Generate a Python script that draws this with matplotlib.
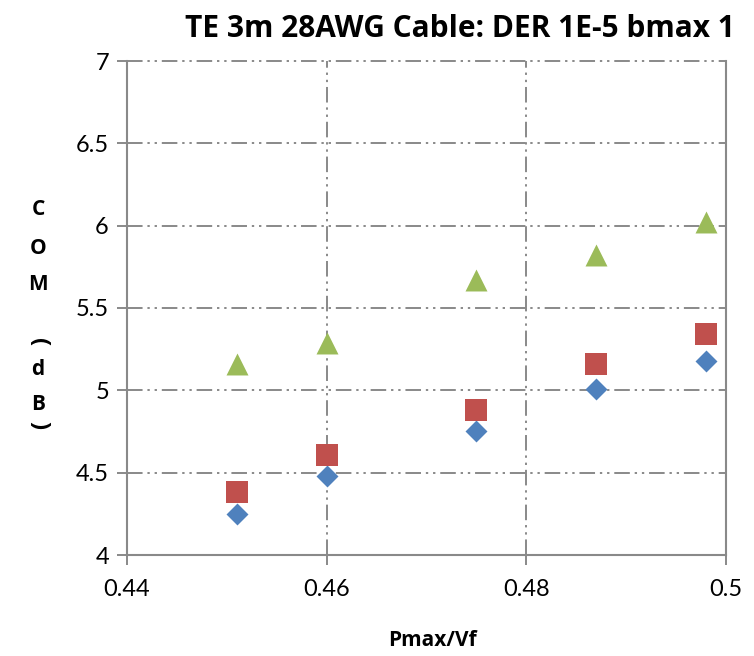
import numpy as np
import matplotlib.pyplot as plt

# data
pmax_vf = [0.451, 0.46, 0.475, 0.487, 0.498]
com_blue = [4.25, 4.48, 4.75, 5.01, 5.18]
com_red = [4.38, 4.61, 4.88, 5.16, 5.34]
com_green = [5.16, 5.29, 5.67, 5.82, 6.02]
xticks = [0.44, 0.46, 0.48, 0.5]
xtick_labels = ['0.44', '0.46', '0.48', '0.5']
yticks = [4, 4.5, 5, 5.5, 6, 6.5, 7]
ytick_labels = ['4', '4.5', '5', '5.5', '6', '6.5', '7']

plt.rcParams['font.family'] = ['Lato', 'DejaVu Sans']

fig = plt.figure(figsize=(7.54, 6.56), dpi=100)
ax = fig.add_axes([127/754, 101/656, 599/754, 494/656])

grid_col = '#898989'
dash = (8, 2.5, 1.2, 2.5, 1.2, 2.5)

ax.set_xlim(0.44, 0.5)
ax.set_ylim(4, 7)
ax.set_xticks(xticks)
ax.set_xticklabels(xtick_labels)
ax.set_yticks(yticks)
ax.set_yticklabels(ytick_labels)

# dash-dot-dot gridlines
for yv in yticks[1:]:
    ax.axhline(yv, color=grid_col, lw=1.4, dashes=dash, zorder=1, clip_on=False)
for xv in xticks[1:-1]:
    ax.axvline(xv, color=grid_col, lw=1.4, dashes=dash, zorder=1)

for side in ['left', 'bottom', 'right']:
    ax.spines[side].set_color(grid_col)
    ax.spines[side].set_linewidth(1.5)
ax.spines['top'].set_visible(False)

ax.tick_params(axis='both', colors=grid_col, labelcolor='black', labelsize=17,
               length=7, width=1.4, direction='out')
ax.tick_params(axis='x', pad=10)
ax.tick_params(axis='y', pad=6)

ax.scatter(pmax_vf, com_blue, marker='D', s=125, color='#4F81BD', zorder=3, linewidths=0)
ax.scatter(pmax_vf, com_red, marker='s', s=240, color='#C0504D', zorder=3, linewidths=0)
ax.scatter(pmax_vf, com_green, marker='^', s=250, color='#9BBB59', zorder=3, linewidths=0)

bold = ['Open Sans', 'DejaVu Sans']
fig.text(460/754, 1 - 29/656, 'TE 3m 28AWG Cable: DER 1E-5 bmax 1',
         ha='center', va='center', fontsize=21.5, fontweight='bold', family=bold)
fig.text(432/754, 1 - 640/656, 'Pmax/Vf', ha='center', va='center',
         fontsize=15, fontweight='bold', family=bold)

# stacked y label letters, brackets turned sideways
letters = ['C', 'O', 'M', '(', 'd', 'B', ')']
ypix = [210, 248, 285, 342, 370, 404, 425]
for ch, yp in zip(letters, ypix):
    rot = -90 if ch in '()' else 0
    size = 17 if ch in '()' else 15
    fig.text(38/754, 1 - yp/656, ch, ha='center', va='center',
             fontsize=size, fontweight='bold', rotation=rot, family=bold)

fig.savefig('out.png', dpi=100)
